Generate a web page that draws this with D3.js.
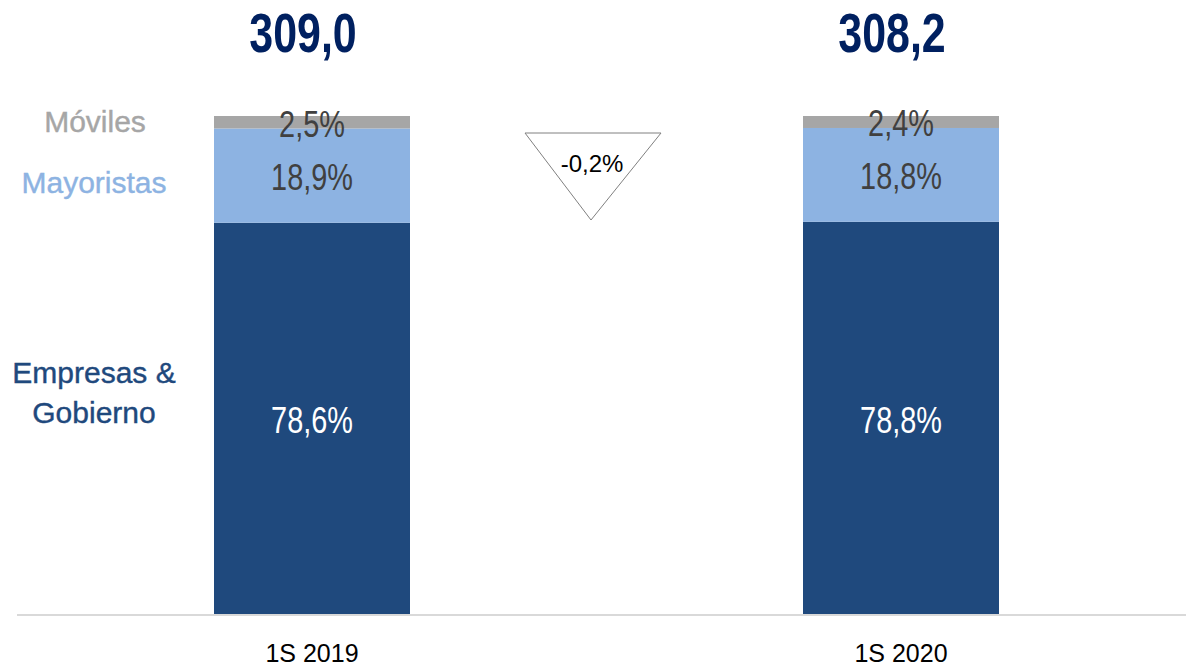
<!DOCTYPE html>
<html>
<head>
<meta charset="utf-8">
<script src="https://d3js.org/d3.v7.min.js"></script>
<style>
body { margin:0; background:#fff; }
text { font-family: "Liberation Sans", Arial, sans-serif; }
</style>
</head>
<body>
<svg width="1186" height="670"></svg>
<script>
var categories = ["1S 2019", "1S 2020"];
var totals = ["309,0", "308,2"];
var series = ["Empresas & Gobierno", "Mayoristas", "Móviles"];
var empresas = [78.6, 78.8];
var mayoristas = [18.9, 18.8];
var moviles = [2.5, 2.4];
var change = "-0,2%";

var colors = ["#1f497d", "#8db3e2", "#a6a6a6"];
var labelColors = ["#ffffff", "#404040", "#404040"];

var svg = d3.select("svg");
var barW = 196;
var narrow = 0.78;

var x = d3.scalePoint().domain(categories).range([312, 901]);
var y = d3.scaleLinear().domain([0, 100]).range([615, 116]);

var rows = categories.map(function(c, i) {
  return {cat: c, e: empresas[i], m: mayoristas[i], v: moviles[i]};
});
var layers = d3.stack().keys(["e", "m", "v"])(rows);

// bars
layers.forEach(function(layer, k) {
  svg.append("g").selectAll("rect").data(layer).enter().append("rect")
    .attr("x", function(d) { return x(d.data.cat) - barW/2; })
    .attr("width", barW)
    .attr("y", function(d) { return y(d[1]); })
    .attr("height", function(d) { return y(d[0]) - y(d[1]); })
    .attr("fill", colors[k]);
});

// baseline
svg.append("line")
  .attr("x1", 17).attr("x2", 1186)
  .attr("y1", 615).attr("y2", 615)
  .attr("stroke", "#d9d9d9").attr("stroke-width", 2);

// segment labels (condensed)
layers.forEach(function(layer, k) {
  svg.append("g").selectAll("text").data(layer).enter().append("text")
    .attr("transform", function(d) {
      return "translate(" + x(d.data.cat) + "," + (y((d[0]+d[1])/2) + 14.5) + ") scale(" + narrow + ",1)";
    })
    .attr("text-anchor", "middle")
    .attr("font-size", 37)
    .attr("fill", labelColors[k])
    .text(function(d) { return (d[1]-d[0]).toFixed(1).replace(".", ",") + "%"; });
});

// totals, sitting a bit left of the bar centre
svg.append("g").selectAll("text").data(categories).enter().append("text")
  .attr("transform", function(d) { return "translate(" + (x(d) - 9) + ",52) scale(" + narrow + ",1)"; })
  .attr("text-anchor", "middle")
  .attr("font-size", 55)
  .attr("font-weight", "bold")
  .attr("fill", "#002060")
  .text(function(d, i) { return totals[i]; });

// category labels
svg.append("g").selectAll("text").data(categories).enter().append("text")
  .attr("x", function(d) { return x(d); })
  .attr("y", 662)
  .attr("text-anchor", "middle")
  .attr("font-size", 25)
  .attr("fill", "#000")
  .text(function(d) { return d; });

// series labels on the left
function sideLabel(txt, cx, cy, c) {
  return svg.append("text")
    .attr("x", cx).attr("y", cy).attr("text-anchor", "middle")
    .attr("font-size", 30).attr("fill", c)
    .attr("stroke", c).attr("stroke-width", 0.4)
    .text(txt);
}
sideLabel(series[2], 95, 132, colors[2]);
sideLabel(series[1], 94, 193, colors[1]);
var emp = sideLabel("", 94, 383, colors[0]);
emp.append("tspan").attr("x", 94).attr("y", 383).text("Empresas &");
emp.append("tspan").attr("x", 94).attr("y", 423).text("Gobierno");

// change triangle
svg.append("path")
  .attr("d", "M525,133 L661,133 L591,220 Z")
  .attr("fill", "#fff").attr("stroke", "#808080").attr("stroke-width", 1);
svg.append("text")
  .attr("x", 592).attr("y", 172).attr("text-anchor", "middle")
  .attr("font-size", 24).attr("fill", "#000").text(change);
</script>
</body>
</html>
